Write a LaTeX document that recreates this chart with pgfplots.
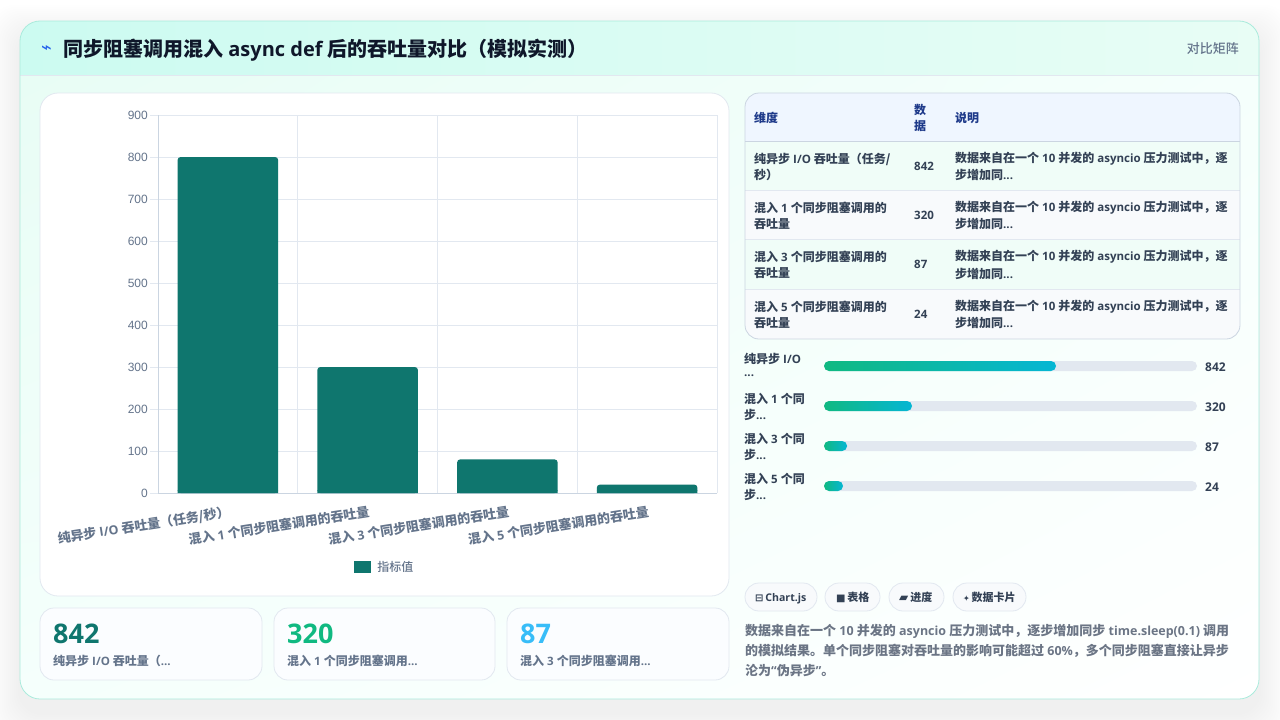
\documentclass[border=0pt]{standalone}
\usepackage{fontspec}
\usepackage{pgfplots}
\pgfplotsset{compat=1.18}
\usetikzlibrary{shadings}
\setmainfont{Noto Sans CJK SC}
\newfontfamily\medf{Noto Sans CJK SC Medium}
\newfontfamily\latf{Open Sans}[Scale=0.96]
\newfontfamily\latb{Open Sans}
\newfontfamily\tickf{Liberation Sans}
\newfontfamily\symf{DejaVu Sans}
\newcommand{\lat}[1]{{\latf\bfseries{}#1}}
\definecolor{ink}{HTML}{0F172A}
\definecolor{txt}{HTML}{334155}
\definecolor{muted}{HTML}{64748B}
\definecolor{para}{HTML}{6B7585}
\definecolor{tealbar}{HTML}{0F766E}
\definecolor{line}{HTML}{E2E8F0}
\definecolor{axisc}{HTML}{CBD5E1}
\definecolor{track}{HTML}{E2E8F0}
\definecolor{cardb}{HTML}{AAEBDC}
\definecolor{heada}{HTML}{CCFBF1}
\definecolor{headb}{HTML}{E8FDF5}
\definecolor{bodya}{HTML}{E8FDF5}
\definecolor{bodyb}{HTML}{F5FFFC}
\definecolor{kpibg}{HTML}{FBFDFF}
\definecolor{thbg}{HTML}{EFF6FF}
\definecolor{rowa}{HTML}{F0FDF8}
\definecolor{rowb}{HTML}{F8FAFC}
\definecolor{thtxt}{HTML}{1E3A8A}
\definecolor{kgreen}{HTML}{10B981}
\definecolor{kblue}{HTML}{38BDF8}
\definecolor{pcyan}{HTML}{06B6D4}
\definecolor{bolt}{HTML}{2563EB}
\begin{document}
\begin{tikzpicture}[x=1pt,y=-1pt]
\useasboundingbox (0,0) rectangle (1280,720);
\fill[white] (0,0) rectangle (1280,720);
% soft shadow of the card
\foreach \g in {2,4,...,30}{
\fill[black,opacity=0.004,rounded corners=24pt] (20-\g,21+14-\g) rectangle (1259+\g,699+14+\g);}
% card
\begin{scope}
\clip[rounded corners=20pt] (20,21) rectangle (1259,699);
\shade[upper left=bodya,upper right=bodyb,lower left=bodyb,lower right=white] (20,75) rectangle (1259,699);
\shade[left color=heada,right color=headb] (20,21) rectangle (1259,75);
\draw[line,line width=0.8pt] (20,75.5) -- (1259,75.5);
\end{scope}
\draw[rounded corners=20pt,draw=cardb,line width=0.8pt] (20,21) rectangle (1259,699);
% header
\node[anchor=west,text=bolt,font=\symf\fontsize{18}{18}\selectfont,inner sep=0] at (41,50) {⌁};
\node[anchor=west,text=ink,font=\bfseries\fontsize{20}{24}\selectfont,inner sep=0] at (63,50.5) {同步阻塞调用混入{\latb\bfseries{} async def }后的吞吐量对比（模拟实测）};
\node[anchor=east,text=muted,font=\medf\fontsize{13}{16}\selectfont,inner sep=0] at (1239,48.5) {对比矩阵};
% chart panel
\fill[white,draw=line,line width=0.8pt,rounded corners=18pt] (40,93) rectangle (729,596);
% kpi cards
\foreach \xa/\xb in {40/262,274/495,507/729}{
\fill[kpibg,draw=line,line width=0.8pt,rounded corners=14pt] (\xa,608) rectangle (\xb,680);}
\node[anchor=west,text=tealbar,font=\latb\bfseries\fontsize{27}{30}\selectfont,inner sep=0] at (53,634) {842};
\node[anchor=west,text=kgreen,font=\latb\bfseries\fontsize{27}{30}\selectfont,inner sep=0] at (287,634) {320};
\node[anchor=west,text=kblue,font=\latb\bfseries\fontsize{27}{30}\selectfont,inner sep=0] at (520,634) {87};
\begin{scope}[every node/.style={anchor=west,text=muted,inner sep=0,font=\bfseries\fontsize{12}{15}\selectfont}]
\node at (53,660.5) {纯异步\lat{ I/O }吞吐量（\lat{...}};
\node at (287,660.5) {混入\lat{ 1 }个同步阻塞调用\lat{...}};
\node at (520,660.5) {混入\lat{ 3 }个同步阻塞调用\lat{...}};
\end{scope}
% table
\begin{scope}
\clip[rounded corners=14pt] (745,93) rectangle (1240,339);
\fill[thbg] (745,93) rectangle (1240,141.5);
\fill[rowa] (745,141.5) rectangle (1240,190.5);
\fill[rowb] (745,190.5) rectangle (1240,239.5);
\fill[rowa] (745,239.5) rectangle (1240,289.5);
\fill[rowb] (745,289.5) rectangle (1240,339);
\draw[axisc,line width=0.8pt] (745,141.5) -- (1240,141.5);
\draw[line,line width=0.8pt] (745,190.5) -- (1240,190.5);
\draw[line,line width=0.8pt] (745,239.5) -- (1240,239.5);
\draw[line,line width=0.8pt] (745,289.5) -- (1240,289.5);
\end{scope}
\draw[axisc,line width=0.8pt,rounded corners=14pt] (745,93) rectangle (1240,339);
\begin{scope}[every node/.style={anchor=west,inner sep=0,text=thtxt,font=\bfseries\fontsize{12}{15}\selectfont}]
\node at (754,117.5) {维度};
\node at (914,109.5) {数};
\node at (914,125.5) {据};
\node at (955,117.5) {说明};
\end{scope}
\begin{scope}[every node/.style={anchor=west,inner sep=0,text=txt,font=\bfseries\fontsize{12}{15}\selectfont}]
\node at (754,159) {纯异步\lat{ I/O }吞吐量（任务/};
\node at (754,175) {秒）};
\node at (754,208) {混入\lat{ 1 }个同步阻塞调用的};
\node at (754,224) {吞吐量};
\node at (754,257) {混入\lat{ 3 }个同步阻塞调用的};
\node at (754,273.5) {吞吐量};
\node at (754,307) {混入\lat{ 5 }个同步阻塞调用的};
\node at (754,323) {吞吐量};
\node at (914,166) {\lat{842}};
\node at (914,215.5) {\lat{320}};
\node at (914,264.5) {\lat{87}};
\node at (914,314.5) {\lat{24}};
\foreach \y in {159,208,257,307}{
\node at (955,\y) {数据来自在一个\lat{ 10 }并发的\lat{ asyncio }压力测试中，逐};}
\foreach \y in {175,224,273.5,323}{
\node at (955,\y) {步增加同\lat{...}};}
% progress labels
\node at (744,359) {纯异步\lat{ I/O}};
\node at (744,376) {\lat{...}};
\node at (744,399) {混入\lat{ 1 }个同};
\node at (744,415) {步\lat{...}};
\node at (744,439) {混入\lat{ 3 }个同};
\node at (744,455) {步\lat{...}};
\node at (744,479) {混入\lat{ 5 }个同};
\node at (744,495) {步\lat{...}};
\node at (1205,367) {{\latb\bfseries 842}};
\node at (1205,407) {{\latb\bfseries 320}};
\node at (1205,447) {{\latb\bfseries 87}};
\node at (1205,487) {{\latb\bfseries 24}};
\end{scope}
% chips
\foreach \xa/\xb in {745/817,825/880,889/944,953/1026}{
\fill[rowb,draw=line,line width=0.8pt,rounded corners=14pt] (\xa,583) rectangle (\xb,611);}
\begin{scope}[every node/.style={anchor=base west,inner sep=0,text=txt,font=\bfseries\fontsize{11}{14}\selectfont}]
\node at (755,601) {{\symf\fontsize{10}{10}\selectfont ⊟}\,\lat{Chart.js}};
\node at (836,601) {{\symf\fontsize{10}{10}\selectfont ■}\,表格};
\node at (899,601) {{\symf\fontsize{12}{12}\selectfont ▰}\,进度};
\node at (963,601) {{\symf\fontsize{8}{8}\selectfont ✦}\,数据卡片};
\end{scope}
\begin{scope}[every node/.style={anchor=west,inner sep=0,text=para,font=\bfseries\fontsize{13}{16}\selectfont}]
\node at (745,631) {数据来自在一个\lat{ 10 }并发的\lat{ asyncio }压力测试中，逐步增加同步\lat{ time.sleep(0.1) }调用};
\node at (745,651) {的模拟结果。单个同步阻塞对吞吐量的影响可能超过\lat{ 60\%}，多个同步阻塞直接让异步};
\node at (745,671) {沦为\lat{“}伪异步\lat{”}。};
\end{scope}
% main chart
\begin{axis}[
  at={(158pt,-493pt)},anchor=south west,
  scale only axis,width=559pt,height=378pt,
  xmin=-0.5,xmax=3.5,ymin=0,ymax=900,
  ytick={0,100,...,900},
  xtick={0,1,2,3},
  xticklabels={纯异步\lat{ I/O }吞吐量（任务/秒）,混入\lat{ 1 }个同步阻塞调用的吞吐量,混入\lat{ 3 }个同步阻塞调用的吞吐量,混入\lat{ 5 }个同步阻塞调用的吞吐量},
  minor xtick={-0.5,0.5,1.5,2.5,3.5},
  xminorgrids,ymajorgrids,
  grid style={draw=line,line width=0.8pt},
  minor grid style={draw=line,line width=0.8pt},
  major tick length=8pt,minor tick length=8pt,
  tick align=outside,
  xtick style={draw=none},
  ytick style={draw=line,line width=0.8pt},
  minor tick style={draw=line,line width=0.8pt},
  axis x line*=bottom,axis y line*=left,
  axis line style={draw=axisc,line width=0.8pt,-},
  /pgf/number format/assume math mode=true,
  yticklabel style={font=\tickf\fontsize{12}{14}\selectfont,text=muted,inner sep=0,xshift=-2pt},
  xticklabel style={font=\bfseries\fontsize{13}{15}\selectfont,text=muted,rotate=9,anchor=north east,inner sep=0,yshift=-4pt},
  legend style={at={(0.406,-0.196)},anchor=center,draw=none,fill=none,font=\medf\fontsize{12}{14}\selectfont,text=muted,legend cell align=left},
  area legend,
  legend image code/.code={\fill[tealbar,sharp corners] (0pt,-6pt) rectangle (17pt,6pt);},
]
\addplot[ybar,bar width=100.5pt,fill=tealbar,draw=none,rounded corners=3pt] coordinates {(0,800) (1,300) (2,80) (3,20)};
\addlegendentry{\hspace{4pt}指标值}
% same bars again, cut low, so that their feet stay square
\addplot[forget plot,ybar,bar width=100.5pt,fill=tealbar,draw=none,y filter/.expression={min(y,7)}] coordinates {(0,800) (1,300) (2,80) (3,20)};
\end{axis}
% progress bars
\begin{axis}[
  at={(824pt,-486pt)},anchor=south west,
  scale only axis,width=373pt,height=130pt,
  xmin=0,xmax=100,ymin=0,ymax=3.25,
  hide axis,clip=false,
]
\addplot[xbar,bar width=10pt,bar shift=0pt,fill=track,draw=none,rounded corners=5pt] coordinates {(100,3) (100,2) (100,1) (100,0)};
\addplot[xbar,bar width=10pt,bar shift=0pt,draw=none,rounded corners=5pt,left color=kgreen,right color=pcyan] coordinates {(62.2,3)};
\addplot[xbar,bar width=10pt,bar shift=0pt,draw=none,rounded corners=5pt,left color=kgreen,right color=pcyan] coordinates {(23.6,2)};
\addplot[xbar,bar width=10pt,bar shift=0pt,draw=none,rounded corners=5pt,left color=kgreen,right color=pcyan] coordinates {(6.2,1)};
\addplot[xbar,bar width=10pt,bar shift=0pt,draw=none,rounded corners=5pt,left color=kgreen,right color=pcyan] coordinates {(5.1,0)};
\end{axis}
\end{tikzpicture}
\end{document}
